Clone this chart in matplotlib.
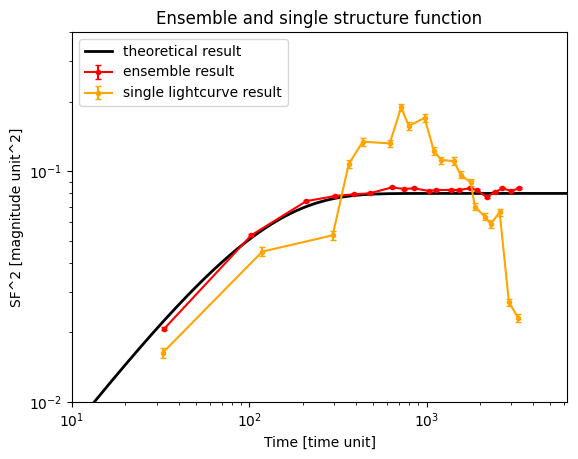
import matplotlib
matplotlib.use('Agg')
import matplotlib.pyplot as plt
import numpy as np

# theoretical DRW structure function: SF^2 = amp * (1 - exp(-t/tau))
sf_amp = 0.08
sf_tau = 100.0
t_model = np.logspace(1, 4, 400)

ens_t = [33.2, 102.6, 210, 306, 388, 478, 640, 745, 848, 1030, 1138, 1367,
         1522, 1757, 1916, 2183, 2423, 2679, 3011, 3321]
ens_sf = [0.0208, 0.0527, 0.0741, 0.0780, 0.0793, 0.0801, 0.0850, 0.0836,
          0.0842, 0.0820, 0.0828, 0.0828, 0.0828, 0.0842, 0.0828, 0.0772,
          0.0809, 0.0842, 0.0820, 0.0842]
ens_err = [0.0003, 0.0006, 0.0008, 0.0008, 0.0008, 0.0008, 0.0009, 0.0009,
           0.0009, 0.0009, 0.0009, 0.0009, 0.0009, 0.0009, 0.0009, 0.0009,
           0.0009, 0.0009, 0.0009, 0.0009]

single_t = [32.5, 118.4, 295.5, 364, 436.5, 620, 719, 794, 974, 1100, 1211,
            1426, 1556, 1773, 1875, 2134, 2299, 2585, 2917, 3281]
single_sf = [0.01634, 0.0448, 0.0527, 0.1072, 0.1340, 0.1318, 0.1887, 0.1566,
             0.1700, 0.1224, 0.1116, 0.1105, 0.0964, 0.0894, 0.0701, 0.0634,
             0.0590, 0.0663, 0.0270, 0.0232]
single_err = [0.0008, 0.0020, 0.0025, 0.0045, 0.0050, 0.0050, 0.0070, 0.0060,
              0.0065, 0.0050, 0.0040, 0.0040, 0.0035, 0.0030, 0.0025, 0.0022,
              0.0022, 0.0025, 0.0010, 0.0009]

fig = plt.figure(figsize=(5.78, 4.59), dpi=100)
ax = fig.add_axes([72/578, 57/459, 495/578, 370/459])

ax.plot(t_model, sf_amp*(1 - np.exp(-t_model/sf_tau)), color='black', lw=2,
        label='theoretical result')
ax.errorbar(ens_t, ens_sf, yerr=ens_err, fmt='.-', color='red', capsize=2,
            label='ensemble result')
ax.errorbar(single_t, single_sf, yerr=single_err, fmt='.-', color='orange',
            capsize=2, label='single lightcurve result')

ax.set_xscale('log')
ax.set_yscale('log')
ax.set_xlim(10, 6200)
ax.set_ylim(0.01, 0.4)
ax.set_xlabel('Time [time unit]')
ax.set_ylabel('SF^2 [magnitude unit^2]')
ax.set_title('Ensemble and single structure function')
ax.legend(loc='upper left')

fig.savefig('out.png', dpi=100)
